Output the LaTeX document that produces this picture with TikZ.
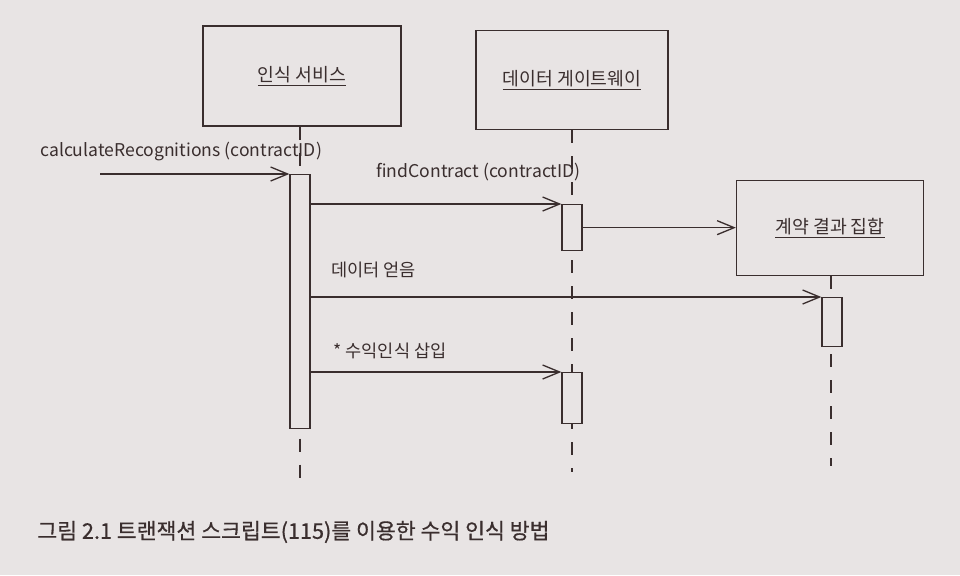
\documentclass[tikz,border=0pt]{standalone}
\usepackage{fontspec}
\newfontfamily\kr{Noto Sans CJK KR}
\newfontfamily\krcap[FakeBold=0.6]{Noto Sans CJK KR}
\usetikzlibrary{arrows.meta,positioning}
\definecolor{paper}{RGB}{232,228,228}
\definecolor{ink}{RGB}{58,46,46}
\tikzset{
	obj/.style={draw=ink,line width=0.75pt,fill=paper,minimum width=#1},
	act/.style={draw=ink,line width=0.75pt,fill=paper,minimum width=4mm,anchor=north,inner sep=0pt},
	msg/.style={draw=ink,line width=0.75pt,-{Straight Barb[length=3.4mm,width=2.8mm,line width=0.75pt]}},
	life/.style={draw=ink,line width=0.75pt,dash pattern=on 2.6mm off 2.6mm},
	lbl/.style={text=ink,font=\kr\fontsize{10}{12}\selectfont,anchor=west,inner sep=0pt},
	objname/.style={lbl,anchor=center,font=\kr\fontsize{10.4}{12}\selectfont}
}
\begin{document}
\begin{tikzpicture}[x=0.2mm,y=-0.2mm]
	\fill[paper] (0,0) rectangle (960,575);
	\useasboundingbox (0,0) rectangle (960,575);
	\node[obj=39.6mm,minimum height=20mm] (svc) at (302,76) {};
	\node[obj=38.4mm,minimum height=19.8mm] (gw) at (572,80) {};
	\node[obj=37.4mm,minimum height=19mm] (res) at (830,228) {};
	\node[objname] at (svc) {\underline{인식 서비스}};
	\node[objname] at (gw) {\underline{데이터 게이트웨이}};
	\node[objname] at (res) {\underline{계약 결과 집합}};
	\coordinate (svcend) at (300,480);
	\coordinate (gwend) at (572,472);
	\coordinate (resend) at (831,466);
	\draw[life] (svc.south -| svcend) -- (svcend);
	\draw[life] (gw.south -| gwend) -- (gwend);
	\draw[life] (res.south -| resend) -- (resend);
	\node[act,minimum height=50.8mm] (b1) at (300,174) {};
	\node[act,minimum height=9.2mm] (b2) at (572,204) {};
	\node[act,minimum height=10.2mm] (b3) at (572,372) {};
	\node[act,minimum height=9.8mm] (b4) at (832,297) {};
	\coordinate (in) at (100,174);
	\draw[msg] (in) -- (b1.north west);
	\draw[msg] (b1.east |- b2.north) -- (b2.north west);
	\draw[msg] (b2.east) -- (b2.east -| res.west);
	\draw[msg] (b1.east |- b4.north) -- (b4.north west);
	\draw[msg] (b1.east |- b3.north) -- (b3.north west);
	\node[lbl] at (40,152) {calculateRecognitions (contractID)};
	\node[lbl] at (376,172) {findContract (contractID)};
	\node[lbl] at (331,270) {데이터 얻음};
	\node[lbl] at (333,351) {* 수익인식 삽입};
	\node[lbl,font=\krcap\fontsize{12.3}{15}\selectfont] at (37,532) {그림 2.1 트랜잭션 스크립트(115)를 이용한 수익 인식 방법};
\end{tikzpicture}
\end{document}
